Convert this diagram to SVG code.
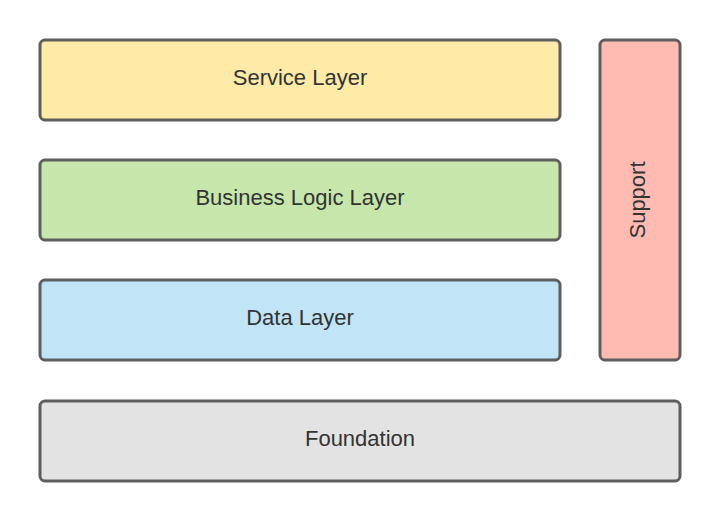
<svg xmlns="http://www.w3.org/2000/svg" width="720" height="521" viewBox="0 0 720 521">
<style>
.box{stroke:#5e5e5e;stroke-width:3}
.t{font-family:"Liberation Sans",Arial,sans-serif;font-size:22px;fill:#333;text-anchor:middle;dominant-baseline:central}
</style>
<rect width="720" height="521" fill="#fff"/>
<g id="service"><rect class="box" x="40" y="40" width="520" height="80" rx="5" fill="#ffeaa7"/><text class="t" x="300" y="77">Service Layer</text></g>
<g id="business"><rect class="box" x="40" y="160" width="520" height="80" rx="5" fill="#c7e6ac"/><text class="t" x="300" y="197">Business Logic Layer</text></g>
<g id="data"><rect class="box" x="40" y="280" width="520" height="80" rx="5" fill="#c1e4f7"/><text class="t" x="300" y="317">Data Layer</text></g>
<g id="support"><rect class="box" x="600" y="40" width="80" height="320" rx="5" fill="#ffbbb1"/><text class="t" x="0" y="0" transform="translate(637,200) rotate(-90)">Support</text></g>
<g id="foundation"><rect class="box" x="40" y="401" width="640" height="80" rx="5" fill="#e3e3e3"/><text class="t" x="360" y="438">Foundation</text></g>
<g id="connectors"></g>
</svg>
